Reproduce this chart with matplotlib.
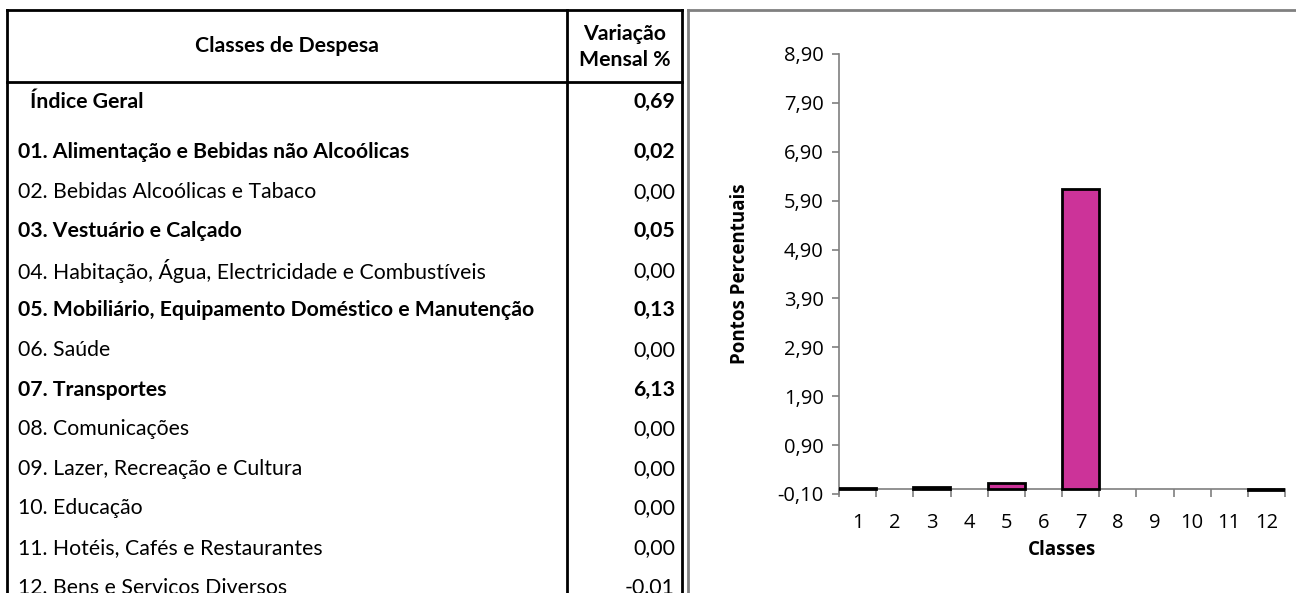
import matplotlib
matplotlib.use("Agg")
import matplotlib.pyplot as plt
from matplotlib.ticker import FixedLocator, FuncFormatter

# table data
row_labels = [
	"Índice Geral",
	"01. Alimentação e Bebidas não Alcoólicas",
	"02. Bebidas Alcoólicas e Tabaco",
	"03. Vestuário e Calçado",
	"04. Habitação, Água, Electricidade e Combustíveis",
	"05. Mobiliário, Equipamento Doméstico e Manutenção",
	"06. Saúde",
	"07. Transportes",
	"08. Comunicações",
	"09. Lazer, Recreação e Cultura",
	"10. Educação",
	"11. Hotéis, Cafés e Restaurantes",
	"12. Bens e Serviços Diversos",
]
row_values = ["0,69", "0,02", "0,00", "0,05", "0,00", "0,13", "0,00",
	"6,13", "0,00", "0,00", "0,00", "0,00", "-0.01"]
row_bold = [True, True, False, True, False, True, False, True,
	False, False, False, False, False]

# chart data
classes = list(range(1, 13))
class_values = [0.02, 0.00, 0.05, 0.00, 0.13, 0.00, 6.13, 0.00, 0.00, 0.00, 0.00, -0.01]
y_ticks = [-0.10, 0.90, 1.90, 2.90, 3.90, 4.90, 5.90, 6.90, 7.90, 8.90]

W, H = 1296, 593
fig = plt.figure(figsize=(W / 100, H / 100), dpi=100)
fig.patch.set_facecolor("white")

# overlay axes in pixel coordinates for the table
tab = fig.add_axes([0, 0, 1, 1])
tab.set_xlim(0, W)
tab.set_ylim(H, 0)
tab.axis("off")

tfont = "Lato"
tsize = 15.3
lw = 2.0
x_left, x_div, x_right, y_top, y_head = 7, 567, 682, 10, 82
tab.plot([x_left, x_right], [y_top, y_top], color="black", lw=lw)
tab.plot([x_left, x_right], [y_head, y_head], color="black", lw=lw)
for x in (x_left, x_div, x_right):
	tab.plot([x, x], [y_top, H + 5], color="black", lw=lw)

# chart frame (gray)
tab.plot([688, 688], [y_top, H + 5], color="#808080", lw=2.0)
tab.plot([688, W + 5], [y_top, y_top], color="#808080", lw=2.0)

tab.text((x_left + x_div) / 2, 46, "Classes de Despesa", ha="center", va="center",
	fontsize=tsize, fontweight="bold", family=tfont)
tab.text((x_div + x_right) / 2, 47, "Variação\nMensal %", ha="center", va="center",
	fontsize=tsize, fontweight="bold", family=tfont, linespacing=1.35)

row_y = [102] + [152 + 39.6 * i for i in range(12)]
for i, (lab, val, b) in enumerate(zip(row_labels, row_values, row_bold)):
	w = "bold" if b else "normal"
	tab.text(30 if i == 0 else 18, row_y[i], lab, ha="left", va="center",
		fontsize=tsize, fontweight=w, family=tfont)
	tab.text(675, row_y[i], val, ha="right", va="center",
		fontsize=tsize, fontweight=w, family=tfont)

# bar chart
ax_l, ax_r, ax_t, ax_b = 839, 1285, 54, 494
ax = fig.add_axes([ax_l / W, 1 - ax_b / H, (ax_r - ax_l) / W, (ax_b - ax_t) / H])
ax.patch.set_alpha(0)
cfont = "Open Sans"
axis_col = "#7f7f7f"

edges = ["black" if v != 0 else "none" for v in class_values]
ax.bar(classes, class_values, width=1.0, color="#cc3399", edgecolor=edges, linewidth=2.0, zorder=3)

ax.set_xlim(0.5, 12.5)
ax.set_ylim(-0.10, 8.90)
for s in ("top", "right"):
	ax.spines[s].set_visible(False)
ax.spines["bottom"].set_position(("data", 0))
ax.spines["bottom"].set_color(axis_col)
ax.spines["left"].set_color(axis_col)
ax.spines["bottom"].set_linewidth(1.2)
ax.spines["left"].set_linewidth(1.2)

ax.yaxis.set_major_locator(FixedLocator(y_ticks))
ax.yaxis.set_major_formatter(FuncFormatter(lambda v, p: f"{v:.2f}".replace(".", ",")))
ax.tick_params(axis="y", direction="out", length=5, width=1.2, color=axis_col,
	labelsize=14.5, pad=6)

ax.set_xticks(classes)
ax.set_xticklabels([str(c) for c in classes])
ax.xaxis.set_minor_locator(FixedLocator([c + 0.5 for c in range(0, 13)]))
ax.tick_params(axis="x", which="major", length=0, labelsize=14.5, pad=17)
ax.tick_params(axis="x", which="minor", direction="out", length=6, width=1.2, color=axis_col)

for t in ax.get_xticklabels() + ax.get_yticklabels():
	t.set_family(cfont)

ax.set_ylabel("Pontos Percentuais", fontsize=13.5, fontweight="bold", family=cfont, labelpad=20)
ax.set_xlabel("Classes", fontsize=13.5, fontweight="bold", family=cfont, labelpad=5)

fig.savefig("out.png", dpi=100, facecolor="white")
